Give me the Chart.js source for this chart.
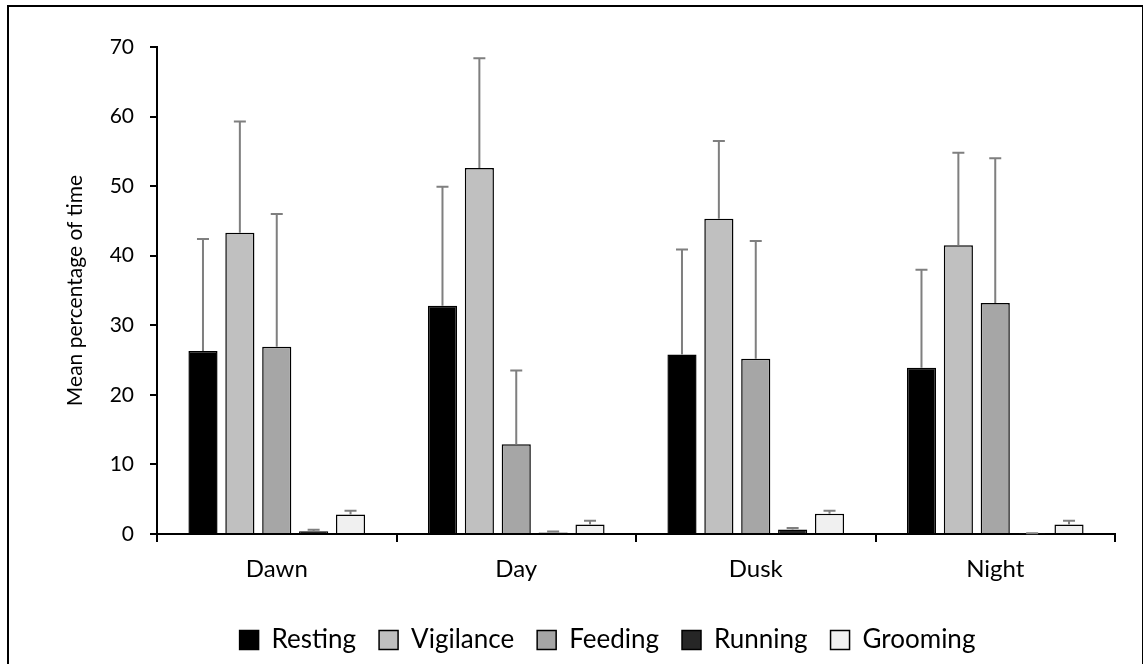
<!DOCTYPE html>
<html>
<head>
<meta charset="utf-8">
<script src="https://cdn.jsdelivr.net/npm/chart.js@4.4.1/dist/chart.umd.min.js"></script>
<style>
  html, body { margin: 0; padding: 0; background: #fff; overflow: hidden; }
  #wrap { position: relative; width: 1143px; height: 664px; }
  #frame { position: absolute; left: 7px; top: 5px; width: 1133px; height: 670px; border: 2px solid #000; pointer-events: none; }
</style>
</head>
<body>
<div id="wrap">
  <canvas id="chart" width="1143" height="664"></canvas>
  <div id="frame"></div>
</div>
<script>
const periods = ["Dawn", "Day", "Dusk", "Night"];
const behaviours = ["Resting", "Vigilance", "Feeding", "Running", "Grooming"];

// mean % of time per behaviour, in period order
const resting = [26.3, 32.8, 25.8, 23.9];
const vigilance = [43.3, 52.6, 45.3, 41.5];
const feeding = [26.9, 12.9, 25.2, 33.2];
const running = [0.4, 0.2, 0.65, 0.05];
const grooming = [2.8, 1.35, 2.9, 1.35];

// upper end of the error bars
const restingErr = [42.4, 49.9, 40.9, 38.0];
const vigilanceErr = [59.3, 68.4, 56.5, 54.8];
const feedingErr = [46.0, 23.5, 42.1, 54.0];
const runningErr = [0.6, 0.35, 0.85, 0.12];
const groomingErr = [3.35, 1.9, 3.35, 1.9];

const yTicks = [0, 10, 20, 30, 40, 50, 60, 70];

const fills = ["#000000", "#c0c0c0", "#a6a6a6", "#262626", "#f0f0f0"];
const values = [resting, vigilance, feeding, running, grooming];
const errs = [restingErr, vigilanceErr, feedingErr, runningErr, groomingErr];

const FONT = "Lato, 'Open Sans', sans-serif";

// draws the upper error bars with the chart's own scales
const errorBars = {
  id: "errorBars",
  afterDatasetsDraw(chart) {
    const ctx = chart.ctx;
    const y = chart.scales.y;
    ctx.save();
    ctx.strokeStyle = "#7f7f7f";
    ctx.lineWidth = 2;
    chart.data.datasets.forEach((ds, i) => {
      const meta = chart.getDatasetMeta(i);
      meta.data.forEach((bar, j) => {
        const top = y.getPixelForValue(ds.err[j]);
        ctx.beginPath();
        ctx.moveTo(bar.x, bar.y);
        ctx.lineTo(bar.x, top);
        ctx.moveTo(bar.x - 6, top);
        ctx.lineTo(bar.x + 6, top);
        ctx.stroke();
      });
    });
    ctx.restore();
  }
};

new Chart(document.getElementById("chart").getContext("2d"), {
  type: "bar",
  data: {
    labels: periods,
    datasets: behaviours.map((name, i) => ({
      label: name,
      data: values[i],
      err: errs[i],
      backgroundColor: fills[i],
      borderColor: "#000",
      borderWidth: 1.5,
      categoryPercentage: 0.77,
      barPercentage: 0.79
    }))
  },
  options: {
    responsive: false,
    animation: false,
    layout: { padding: { top: 47, right: 28, left: 100, bottom: 1 } },
    plugins: {
      tooltip: { enabled: false },
      legend: {
        position: "bottom",
        labels: {
          color: "#000",
          font: { family: FONT, size: 26 },
          boxWidth: 19,
          boxHeight: 19,
          padding: 23
        }
      }
    },
    scales: {
      x: {
        grid: { display: true, drawOnChartArea: false, offset: true, color: "#000", lineWidth: 2, tickLength: 8 },
        border: { color: "#000", width: 2 },
        ticks: { color: "#000", font: { family: FONT, size: 24 }, padding: 13 },
        afterFit(scale) { scale.height = 70; }
      },
      y: {
        min: 0,
        max: 70,
        afterBuildTicks(scale) { scale.ticks = yTicks.map(v => ({ value: v })); },
        grid: { display: true, drawOnChartArea: false, color: "#000", lineWidth: 2, tickLength: 7 },
        border: { color: "#000", width: 2 },
        ticks: { color: "#000", font: { family: FONT, size: 21 }, padding: 16 },
        title: { display: true, text: "Mean percentage of time", color: "#000", font: { family: FONT, size: 21 }, padding: { top: -37, bottom: 0 } },
        afterFit(scale) { scale.width = 57; }
      }
    }
  },
  plugins: [errorBars]
});
</script>
</body>
</html>
